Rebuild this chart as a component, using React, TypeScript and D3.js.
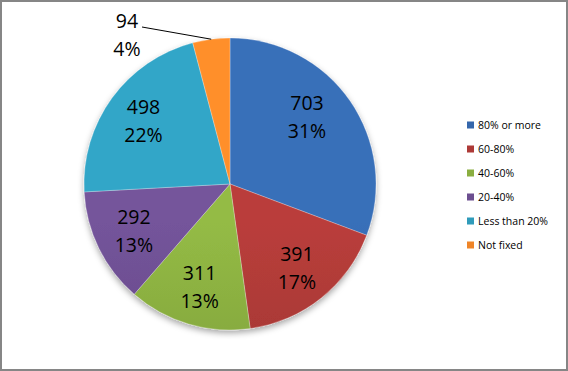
import React, { useRef, useEffect } from 'react';
import * as d3 from 'd3';

const categories = ['80% or more', '60-80%', '40-60%', '20-40%', 'Less than 20%', 'Not fixed'];
const values = [703, 391, 311, 292, 498, 94];
const pctLabels = ['31%', '17%', '13%', '13%', '22%', '4%'];
const colors = ['#3567AC', '#AD3A37', '#8AAE40', '#6C4E90', '#2F9BBA', '#EF8528'];

export default function App() {
  const svgRef = useRef<SVGSVGElement>(null);

  useEffect(() => {
    const W = 568, H = 371;
    const cx = 230, cy = 184, r = 146;
    const svg = d3.select(svgRef.current);
    svg.selectAll('*').remove();

    svg.append('rect').attr('x', 1).attr('y', 1).attr('width', W - 2).attr('height', H - 2)
      .attr('fill', '#fff').attr('stroke', '#868686').attr('stroke-width', 2);

    const defs = svg.append('defs');
    const shadow = defs.append('filter').attr('id', 'shadow')
      .attr('x', '-20%').attr('y', '-20%').attr('width', '140%').attr('height', '140%');
    shadow.append('feDropShadow').attr('dx', 0).attr('dy', 3).attr('stdDeviation', 3)
      .attr('flood-color', '#000').attr('flood-opacity', 0.35);

    colors.forEach((c, i) => {
      const g = defs.append('linearGradient').attr('id', 'grad' + i)
        .attr('gradientUnits', 'userSpaceOnUse')
        .attr('x1', 0).attr('y1', cy - r).attr('x2', 0).attr('y2', cy + r);
      g.append('stop').attr('offset', '0%').attr('stop-color', d3.color(c)!.brighter(0.2).formatHex());
      g.append('stop').attr('offset', '100%').attr('stop-color', d3.color(c)!.darker(0.5).formatHex());
    });

    const pie = d3.pie<number>().sort(null).value(d => d);
    const arcs = pie(values);
    const arc = d3.arc<d3.PieArcDatum<number>>().innerRadius(0).outerRadius(r);
    const labelR = 107;
    const labelArc = d3.arc<d3.PieArcDatum<number>>().innerRadius(labelR).outerRadius(labelR);

    const g = svg.append('g').attr('transform', `translate(${cx},${cy})`);
    g.append('g').attr('filter', 'url(#shadow)')
      .selectAll('path').data(arcs).join('path')
      .attr('d', arc)
      .attr('fill', (_, i) => `url(#grad${i})`)
      .attr('stroke', 'rgba(255,255,255,0.45)').attr('stroke-width', 0.6);

    // Excel's best-fit placement: the first label sits a bit nearer the top,
    // the small slice label goes outside with a leader line
    const lastIdx = arcs.length - 1;
    const labelPos = (d: d3.PieArcDatum<number>, i: number): [number, number] => {
      if (i === lastIdx) return [-103, -149];
      if (i === 0) {
        const a = (d.startAngle + d.endAngle) / 2 - 0.11;
        return [Math.sin(a) * 102, -Math.cos(a) * 102];
      }
      return labelArc.centroid(d) as [number, number];
    };

    const labels = g.selectAll('g.lbl').data(arcs).join('g').attr('class', 'lbl')
      .attr('transform', (d, i) => `translate(${labelPos(d, i).join(',')})`);
    labels.append('text').attr('y', -7).attr('text-anchor', 'middle')
      .attr('font-family', 'Open Sans, sans-serif').attr('font-size', 19.5).attr('fill', '#000')
      .text((_, i) => String(values[i]));
    labels.append('text').attr('y', 21).attr('text-anchor', 'middle')
      .attr('font-family', 'Open Sans, sans-serif').attr('font-size', 19.5).attr('fill', '#000')
      .text((_, i) => pctLabels[i]);

    // leader line for the small slice
    const small = arcs[lastIdx];
    const mid = (small.startAngle + small.endAngle) / 2;
    const lp = labelPos(small, lastIdx);
    g.append('line')
      .attr('x1', lp[0] + 15).attr('y1', lp[1] - 8)
      .attr('x2', Math.sin(mid) * r).attr('y2', -Math.cos(mid) * r)
      .attr('stroke', '#000').attr('stroke-width', 1);

    const legend = svg.append('g').attr('transform', 'translate(467,125)');
    const items = legend.selectAll('g').data(categories).join('g')
      .attr('transform', (_, i) => `translate(0,${i * 24})`);
    items.append('rect').attr('x', 0).attr('y', -3.5).attr('width', 7).attr('height', 7)
      .attr('fill', (_, i) => colors[i]);
    items.append('text').attr('x', 11).attr('y', 4)
      .attr('font-family', 'Open Sans, sans-serif').attr('font-size', 10.5).attr('fill', '#000')
      .text(d => d);
  }, []);

  return (
    <svg ref={svgRef} width={568} height={371}
      style={{ position: 'fixed', left: 0, top: 0, display: 'block' }} />
  );
}
